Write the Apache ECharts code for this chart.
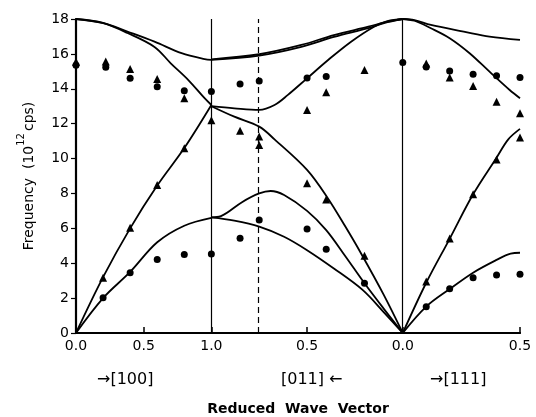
<!DOCTYPE html>
<html>
<head>
<meta charset="utf-8">
<title>Phonon dispersion</title>
<script src="https://cdn.jsdelivr.net/npm/echarts@6/dist/echarts.min.js"></script>
<style>
  html, body { margin: 0; padding: 0; background: #fff; }
  #chart { width: 536px; height: 417px; }
</style>
</head>
<body>
<div id="chart"></div>
<script>
// segments: 100 = Γ→X along [100], 11 = X→Γ along [011], 111 = Γ→L along [111]
// each point is [reduced wave vector, frequency (10^12 cps)]

// theory curves, [100]
const opt1_100 = [[0, 18], [0.2, 17.78], [0.38, 17.28], [0.58, 16.7], [0.78, 16.04], [0.95, 15.7], [1, 15.66]];
const opt2_100 = [[0, 18], [0.2, 17.76], [0.38, 17.2], [0.58, 16.4], [0.7, 15.46], [0.83, 14.5], [0.95, 13.46], [1, 13.07]];
const la_100 = [[0, 0], [0.2, 3.2], [0.4, 6.0], [0.6, 8.45], [0.8, 10.6], [1, 13.07]];
const ta_100 = [[0, 0], [0.2, 2.0], [0.4, 3.5], [0.6, 5.2], [0.8, 6.15], [1, 6.6]];

// theory curves, [011]
const optA_011 = [[1, 15.69], [0.75, 15.98], [0.53, 16.51], [0.36, 17.08], [0.18, 17.56], [0.08, 17.85], [0, 18]];
const optB_011 = [[1, 15.66], [0.75, 15.9], [0.53, 16.4], [0.36, 16.97], [0.18, 17.48], [0.08, 17.82], [0, 18]];
const optC_011 = [[1, 13.0], [0.88, 12.88], [0.75, 12.79], [0.67, 13.07], [0.6, 13.65], [0.5, 14.6], [0.39, 15.65], [0.27, 16.7], [0.15, 17.56], [0.08, 17.88], [0, 18]];
const accD_011 = [[1, 13.0], [0.88, 12.4], [0.75, 11.83], [0.67, 11.1], [0.5, 9.35], [0.39, 7.7], [0.3, 6.1], [0.22, 4.6], [0.1, 2.2], [0, 0]];
const accE_011 = [[1, 6.63], [0.95, 6.7], [0.84, 7.5], [0.75, 8.0], [0.69, 8.14], [0.62, 7.91], [0.5, 7.0], [0.4, 5.9], [0.3, 4.4], [0.2, 2.85], [0.1, 1.4], [0, 0]];
const accF_011 = [[1, 6.63], [0.88, 6.44], [0.75, 6.1], [0.62, 5.52], [0.5, 4.75], [0.36, 3.7], [0.21, 2.47], [0.1, 1.2], [0, 0]];

// theory curves, [111]
const opt1_111 = [[0, 18], [0.05, 17.93], [0.12, 17.66], [0.26, 17.28], [0.37, 16.99], [0.5, 16.8]];
const opt2_111 = [[0, 18], [0.05, 17.9], [0.12, 17.47], [0.2, 16.9], [0.285, 16.04], [0.37, 14.98], [0.456, 13.93], [0.5, 13.46]];
const la_111 = [[0, 0], [0.1, 2.88], [0.2, 5.4], [0.3, 7.95], [0.4, 10.05], [0.45, 11.1], [0.5, 11.7]];
const ta_111 = [[0, 0], [0.1, 1.51], [0.2, 2.52], [0.3, 3.46], [0.4, 4.19], [0.46, 4.55], [0.5, 4.6]];

// measured points (circles and triangles)
const dots_100 = [[0, 15.35], [0.22, 15.23], [0.4, 14.6], [0.6, 14.12], [0.8, 13.88], [1, 13.84],
                  [0.2, 2.02], [0.4, 3.46], [0.6, 4.22], [0.8, 4.5], [1, 4.53]];
const tris_100 = [[0, 15.55], [0.22, 15.56], [0.4, 15.14], [0.6, 14.56], [0.8, 13.46], [1, 12.2],
                  [0.2, 3.17], [0.4, 6.04], [0.6, 8.49], [0.8, 10.59]];
const dots_011 = [[0.85, 14.28], [0.75, 14.45], [0.5, 14.62], [0.4, 14.7], [0, 15.5],
                  [0.85, 5.43], [0.75, 6.48], [0.5, 5.96], [0.4, 4.8], [0.2, 2.85]];
const tris_011 = [[0.85, 11.6], [0.75, 11.26], [0.75, 10.78], [0.5, 12.79], [0.4, 13.8], [0.2, 15.08],
                  [0.5, 8.58], [0.4, 7.66], [0.2, 4.43]];
const dots_111 = [[0.1, 15.25], [0.2, 15.02], [0.3, 14.83], [0.4, 14.74], [0.5, 14.64],
                  [0.1, 1.51], [0.2, 2.54], [0.3, 3.17], [0.4, 3.33], [0.5, 3.37]];
const tris_111 = [[0.1, 15.45], [0.2, 14.64], [0.3, 14.16], [0.4, 13.26], [0.5, 12.6], [0.5, 11.2],
                  [0.1, 2.95], [0.2, 5.42], [0.3, 7.96], [0.4, 9.94]];

// x tick labels
const tickSegs = [100, 100, 100, 11, 11, 111];
const tickZeta = [0, 0.5, 1, 0.5, 0, 0.5];
const tickLabels = ['0.0', '0.5', '1.0', '0.5', '0.0', '0.5'];
const dirLabels = ['\u2192[100]', '[011] \u2190', '\u2192[111]'];

// map (segment, reduced wave vector) onto one axis, lengths scaled by |q|
const R2 = Math.SQRT2, R3 = Math.sqrt(3);
function pos(seg, z) {
  if (seg === 100) return z;
  if (seg === 11) return 1 + (1 - z) * R2;
  return 1 + R2 + z * R3;
}
const XMAX = pos(111, 0.5);
const tickPos = tickZeta.map((z, i) => pos(tickSegs[i], z));

const FONT = 'DejaVu Sans';

function curve(seg, pts, extra) {
  return Object.assign({
    type: 'line',
    data: pts.map(p => [pos(seg, p[0]), p[1]]),
    smooth: 0.35,
    symbol: 'none',
    lineStyle: { color: '#000', width: 1.8 },
    z: 3
  }, extra || {});
}

function marks(seg, pts, symbol, size) {
  return {
    type: 'scatter',
    data: pts.map(p => [pos(seg, p[0]), p[1]]),
    symbol: symbol,
    symbolSize: size,
    itemStyle: { color: '#000', opacity: 1 },
    clip: false,
    z: 4
  };
}

const myChart = echarts.init(document.getElementById('chart'));

const option = {
  animation: false,
  backgroundColor: '#fff',
  grid: { left: 76, right: 16, top: 19, bottom: 84, outerBoundsMode: 'none' },
  xAxis: [
    {
      type: 'value',
      min: 0,
      max: XMAX,
      position: 'bottom',
      name: 'Reduced  Wave  Vector',
      nameLocation: 'middle',
      nameGap: 69,
      nameTextStyle: { fontFamily: FONT, fontSize: 14, fontWeight: 'bold', color: '#000' },
      axisLine: { show: true, lineStyle: { color: '#000', width: 2 } },
      axisTick: { show: true, inside: true, length: 6, customValues: tickPos, lineStyle: { color: '#000', width: 1.5 } },
      axisLabel: {
        customValues: tickPos,
        fontFamily: FONT, fontSize: 14, color: '#000', margin: 6,
        formatter: function (v) {
          let best = 0;
          tickPos.forEach((p, i) => { if (Math.abs(p - v) < Math.abs(tickPos[best] - v)) best = i; });
          return tickLabels[best];
        }
      },
      splitLine: { show: false }
    },
    {
      type: 'value',
      min: 0,
      max: XMAX,
      position: 'top',
      axisLine: { show: true, lineStyle: { color: '#000', width: 1.8 } },
      axisTick: { show: false },
      axisLabel: { show: false },
      splitLine: { show: false }
    }
  ],
  yAxis: [
    {
      type: 'value',
      min: 0,
      max: 18,
      interval: 2,
      position: 'left',
      name: '{a|Frequency  (10}{s|12}{a|cps)}',
      nameLocation: 'middle',
      nameGap: 40,
      nameRotate: 90,
      nameTextStyle: {
        rich: {
          a: { fontFamily: FONT, fontSize: 14, color: '#000', lineHeight: 20, verticalAlign: 'bottom' },
          s: { fontFamily: FONT, fontSize: 10, color: '#000', lineHeight: 20, verticalAlign: 'top', padding: [0, 2, 0, 0] }
        }
      },
      axisLine: { show: true, lineStyle: { color: '#000', width: 2.2 } },
      axisTick: { show: false },
      axisLabel: { fontFamily: FONT, fontSize: 14, color: '#000', margin: 7 },
      splitLine: { show: false }
    },
    {
      type: 'value',
      min: 0,
      max: 18,
      interval: 2,
      position: 'right',
      axisLine: { show: true, lineStyle: { color: '#000', width: 1.6 } },
      axisTick: { show: true, inside: true, length: 5, lineStyle: { color: '#000', width: 1.2 } },
      axisLabel: { show: false },
      splitLine: { show: false }
    }
  ],
  graphic: dirLabels.map((t, i) => ({
    type: 'text',
    left: [97, 281, 430][i],
    top: 372,
    style: { text: t, font: '16px "' + FONT + '"', fill: '#000' }
  })),
  series: [
    curve(100, opt1_100, {
      markLine: {
        silent: true,
        symbol: 'none',
        label: { show: false },
        lineStyle: { color: '#000', width: 1.2, type: 'solid' },
        data: [
          { xAxis: pos(100, 1) },
          { xAxis: pos(111, 0) },
          { xAxis: pos(11, 0.75), lineStyle: { type: [6, 4], width: 1.2, color: '#000' } }
        ]
      }
    }),
    curve(100, opt2_100),
    curve(100, la_100),
    curve(100, ta_100),
    curve(11, optA_011),
    curve(11, optB_011),
    curve(11, optC_011),
    curve(11, accD_011),
    curve(11, accE_011),
    curve(11, accF_011),
    curve(111, opt1_111),
    curve(111, opt2_111),
    curve(111, la_111),
    curve(111, ta_111),
    marks(100, dots_100, 'circle', 7),
    marks(100, tris_100, 'triangle', 8),
    marks(11, dots_011, 'circle', 7),
    marks(11, tris_011, 'triangle', 8),
    marks(111, dots_111, 'circle', 7),
    marks(111, tris_111, 'triangle', 8)
  ]
};

myChart.setOption(option);
</script>
</body>
</html>
